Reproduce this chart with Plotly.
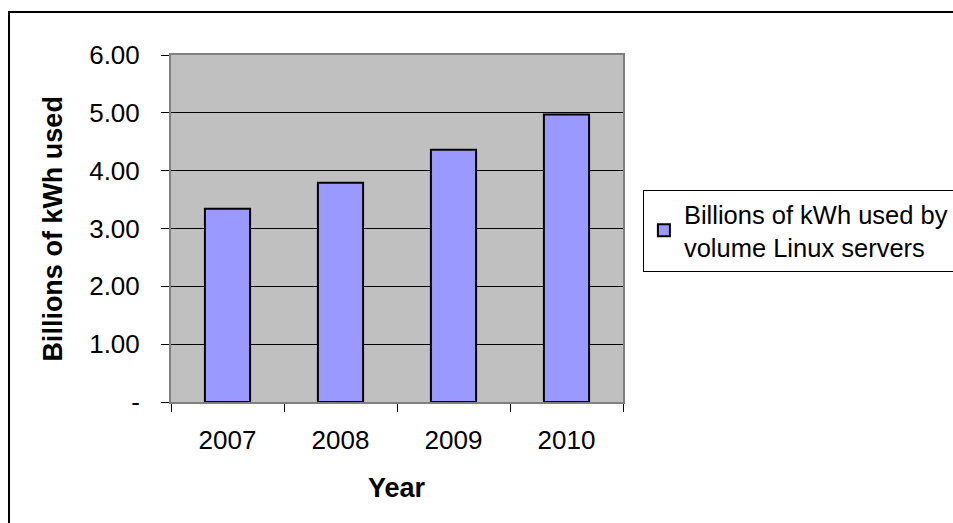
import plotly.graph_objects as go

years = ["2007", "2008", "2009", "2010"]
kwh = [3.34, 3.79, 4.36, 4.97]
series_name = "Billions of kWh used by<br>volume Linux servers"
y_tickvals = [0, 1, 2, 3, 4, 5, 6]
y_ticktext = ["-", "1.00", "2.00", "3.00", "4.00", "5.00", "6.00"]

FONT = "Liberation Sans, Arial, sans-serif"

fig = go.Figure()
fig.add_trace(go.Bar(
    x=years, y=kwh, name=series_name,
    marker=dict(color="#9999FF", line=dict(color="black", width=2)),
    width=0.4, showlegend=True,
))

fig.update_layout(
    width=953, height=523,
    margin=dict(l=171, r=330, t=55, b=121, autoexpand=False),
    paper_bgcolor="white", plot_bgcolor="#C0C0C0",
    font=dict(family=FONT, size=26, color="black"),
    showlegend=True,
    legend=dict(
        x=1.044, y=0.612, xanchor="left", yanchor="top",
        bordercolor="black", borderwidth=1, bgcolor="white",
        font=dict(family=FONT, size=25.5, color="black"),
        itemwidth=30, tracegroupgap=0,
    ),
    xaxis=dict(
        type="category", tickson="boundaries", ticks="outside", ticklen=8,
        tickcolor="black", showline=True, linecolor="#808080", linewidth=2,
        mirror=True, showgrid=False, ticklabelstandoff=14,
        tickfont=dict(family=FONT, size=26),
    ),
    yaxis=dict(
        range=[0, 6], tickvals=y_tickvals, ticktext=y_ticktext,
        ticks="outside", ticklen=8, tickcolor="black",
        showline=True, linecolor="#808080", linewidth=2, mirror=True,
        showgrid=True, gridcolor="black", gridwidth=1, zeroline=False,
        ticklabelstandoff=16, tickfont=dict(family=FONT, size=26),
    ),
    annotations=[
        dict(text="<b>Billions of kWh used</b>", xref="paper", yref="paper",
             x=-0.263, y=0.5, textangle=-90, showarrow=False,
             xanchor="center", yanchor="middle",
             font=dict(family=FONT, size=27, color="black")),
        dict(text="<b>Year</b>", xref="paper", yref="paper",
             x=0.5, y=-0.248, showarrow=False, xanchor="center", yanchor="middle",
             font=dict(family=FONT, size=27, color="black")),
    ],
    shapes=[
        dict(type="rect", xref="paper", yref="paper",
             x0=(9 - 171) / 452, x1=(970 - 171) / 452,
             y0=(402 - 540) / 347, y1=(402 - 12) / 347,
             line=dict(color="black", width=2), fillcolor="rgba(0,0,0,0)",
             layer="below"),
    ],
)

fig.write_html("out.html")
